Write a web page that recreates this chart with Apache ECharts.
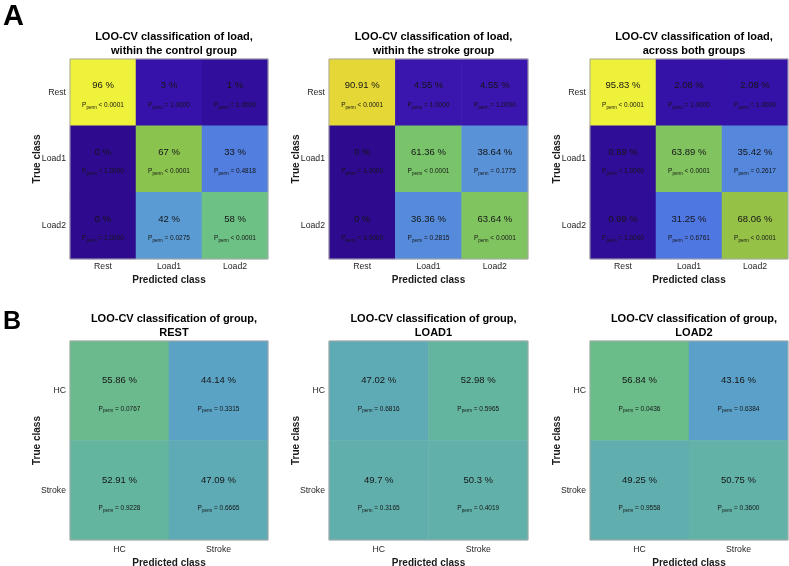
<!DOCTYPE html>
<html>
<head>
<meta charset="utf-8">
<script src="https://cdn.jsdelivr.net/npm/echarts@6/dist/echarts.min.js"></script>
<style>html,body{margin:0;padding:0;background:#fff}#c{width:789px;height:566px}</style>
</head>
<body>
<div id="c"></div>
<script>
// ---- data ----
const loadCats = ['Rest', 'Load1', 'Load2'];
const groupCats = ['HC', 'Stroke'];

const ctrlPct = [[96, 3, 1], [0, 67, 33], [0, 42, 58]];
const ctrlP = [['< 0.0001', '= 1.0000', '= 1.0000'], ['= 1.0000', '< 0.0001', '= 0.4818'], ['= 1.0000', '= 0.0275', '< 0.0001']];
const strokePct = [[90.91, 4.55, 4.55], [0, 61.36, 38.64], [0, 36.36, 63.64]];
const strokeP = [['< 0.0001', '= 1.0000', '= 1.0000'], ['= 1.0000', '< 0.0001', '= 0.1775'], ['= 1.0000', '= 0.2815', '< 0.0001']];
const bothPct = [[95.83, 2.08, 2.08], [0.69, 63.89, 35.42], [0.69, 31.25, 68.06]];
const bothP = [['< 0.0001', '= 1.0000', '= 1.0000'], ['= 1.0000', '< 0.0001', '= 0.2617'], ['= 1.0000', '= 0.6761', '< 0.0001']];

const restPct = [[55.86, 44.14], [52.91, 47.09]];
const restP = [['= 0.0767', '= 0.3315'], ['= 0.9228', '= 0.6665']];
const load1Pct = [[47.02, 52.98], [49.7, 50.3]];
const load1P = [['= 0.6816', '= 0.5965'], ['= 0.3165', '= 0.4019']];
const load2Pct = [[56.84, 43.16], [49.25, 50.75]];
const load2P = [['= 0.0436', '= 0.6384'], ['= 0.9558', '= 0.3600']];

const titlesTop = ['LOO-CV classification of load,\nwithin the control group',
                   'LOO-CV classification of load,\nwithin the stroke group',
                   'LOO-CV classification of load,\nacross both groups'];
const titlesBot = ['LOO-CV classification of group,\nREST',
                   'LOO-CV classification of group,\nLOAD1',
                   'LOO-CV classification of group,\nLOAD2'];

// ---- colour maps (style) ----
const topStops = [[0,'#2E0A8E'],[2,'#3411A7'],[4.5,'#3A14AE'],[31,'#4F76E2'],[35.5,'#5589DC'],[38.6,'#5A92D8'],[42,'#5A9BD3'],[58,'#6DC184'],[61.4,'#79C46A'],[63.8,'#80C460'],[67,'#8BC34F'],[68,'#96C147'],[91,'#E5D836'],[96,'#EEF23A'],[100,'#F5F930']];
const botStops = [[0,'#5A9BD0'],[43,'#5AA0C8'],[44.1,'#5AA3C5'],[47,'#5EAAB5'],[49.5,'#60AEAE'],[50.5,'#62B1A8'],[53,'#64B59F'],[56,'#6BBA8C'],[57,'#6ABC88'],[100,'#6ABF80']];
function hex2rgb(h){return [parseInt(h.substr(1,2),16),parseInt(h.substr(3,2),16),parseInt(h.substr(5,2),16)];}
function buildMap(stops){
  const out=[];
  for(let v=0; v<=100; v++){
    let i=0; while(i<stops.length-2 && v>stops[i+1][0]) i++;
    const [p0,c0]=stops[i], [p1,c1]=stops[i+1];
    const t=Math.max(0,Math.min(1,(v-p0)/(p1-p0)));
    const a=hex2rgb(c0), b=hex2rgb(c1);
    out.push('rgb('+a.map((x,k)=>Math.round(x+(b[k]-x)*t)).join(',')+')');
  }
  return out;
}

const FONT = '"Liberation Sans", Arial, Helvetica, sans-serif';
const topGrids = [{left:70,width:198},{left:329,width:199},{left:590,width:198}];
const panelsTop = [[ctrlPct,ctrlP],[strokePct,strokeP],[bothPct,bothP]];
const panelsBot = [[restPct,restP],[load1Pct,load1P],[load2Pct,load2P]];

const grid=[], xAxis=[], yAxis=[], series=[], title=[];
title.push({text:'A', left:-2, top:-3, textStyle:{fontSize:29,fontWeight:'bold',color:'#000',fontFamily:FONT}});
title.push({text:'B', left:-2, top:305, textStyle:{fontSize:25,fontWeight:'bold',color:'#000',fontFamily:FONT}});

function addPanel(idx, g, top, height, cats, pct, pv, ttl, isTop){
  grid.push({left:g.left, width:g.width, top:top, height:height, show:true, z:10, borderColor:'#A8A8A8', borderWidth:1,
    backgroundColor:'transparent', containLabel:false, outerBoundsMode:'none'});
  xAxis.push({type:'category', gridIndex:idx, data:cats, name:'Predicted class', nameLocation:'middle', nameGap:isTop?16:18, nameMoveOverlap:false,
    nameTextStyle:{fontSize:10,fontWeight:'bold',color:'#1a1a1a',fontFamily:FONT},
    axisLine:{show:false}, axisTick:{show:false}, splitLine:{show:false},
    axisLabel:{fontSize:8.7,color:'#262626',margin:isTop?3:5,fontFamily:FONT}});
  yAxis.push({type:'category', gridIndex:idx, data:cats, inverse:true, name:'True class', nameLocation:'middle', nameGap:28, nameMoveOverlap:false,
    nameTextStyle:{fontSize:10,fontWeight:'bold',color:'#1a1a1a',fontFamily:FONT},
    axisLine:{show:false}, axisTick:{show:false}, splitLine:{show:false},
    axisLabel:{fontSize:8.7,color:'#262626',margin:4,fontFamily:FONT}});
  const data=[];
  pct.forEach((row,r)=>row.forEach((v,c)=>data.push({value:[c,r,v], p:pv[r][c]})));
  const lh = isTop?19:28;
  series.push({type:'heatmap', xAxisIndex:idx, yAxisIndex:idx, data:data,
    itemStyle:{borderWidth:0},
    emphasis:{disabled:true},
    label:{show:true, offset:[0, isTop?3:4], fontFamily:FONT,
      formatter:(p)=>'{a|'+p.value[2]+' %}\n{b|P}{s|perm}{b| '+p.data.p+'}',
      rich:{
        a:{fontSize:9.5,color:'#151515',lineHeight:lh,fontFamily:FONT},
        b:{fontSize:6.5,color:'#151515',lineHeight:lh,fontFamily:FONT},
        s:{fontSize:4.5,color:'#151515',padding:[5,0,0,0],fontFamily:FONT}
      }}});
  title.push({text:ttl, left:g.left+g.width/2, top:isTop?25:307, textAlign:'center',
    textStyle:{fontSize:11,fontWeight:'bold',color:'#000',lineHeight:14,fontFamily:FONT}});
}

panelsTop.forEach((pp,i)=>addPanel(i, topGrids[i], 59, 200, loadCats, pp[0], pp[1], titlesTop[i], true));
panelsBot.forEach((pp,i)=>addPanel(i+3, topGrids[i], 341, 199, groupCats, pp[0], pp[1], titlesBot[i], false));

const chart = echarts.init(document.getElementById('c'), null, {renderer:'canvas'});
chart.setOption({
  animation:false,
  backgroundColor:'#fff',
  title:title, grid:grid, xAxis:xAxis, yAxis:yAxis, series:series,
  visualMap:[
    {type:'continuous', show:false, min:0, max:100, seriesIndex:[0,1,2], dimension:2, inRange:{color:buildMap(topStops)}},
    {type:'continuous', show:false, min:0, max:100, seriesIndex:[3,4,5], dimension:2, inRange:{color:buildMap(botStops)}}
  ]
});
</script>
</body>
</html>
